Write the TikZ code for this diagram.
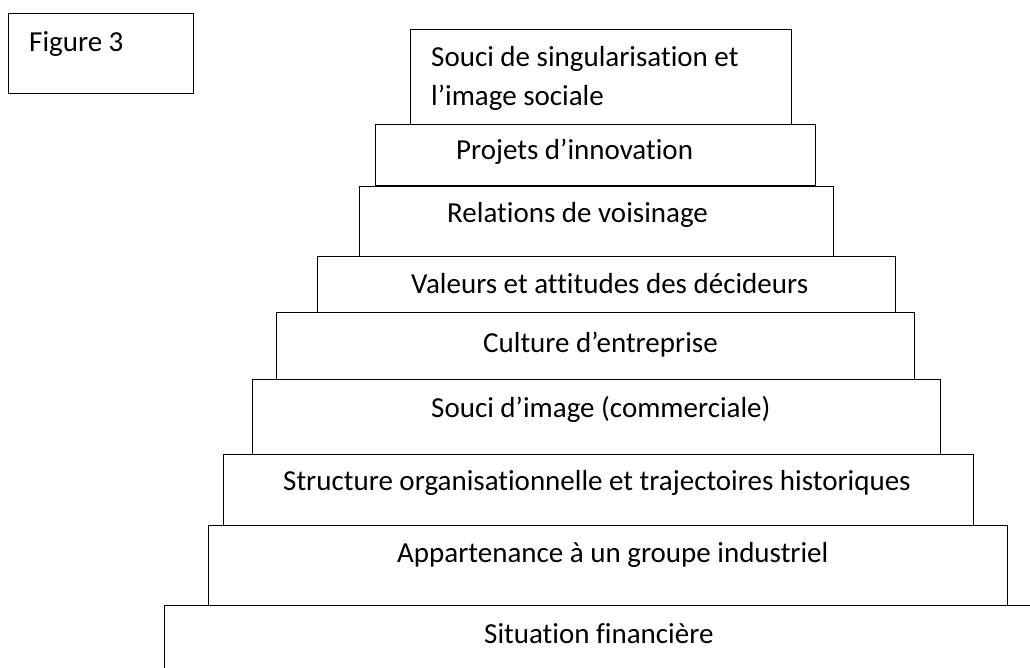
\documentclass[tikz,border=0pt]{standalone}
\usepackage{fontspec}
\setmainfont{Carlito}[Ligatures={NoCommon,NoContextual}]
\begin{document}
\begin{tikzpicture}[x=1pt,y=-1pt,
  tier/.style={draw=black, line width=1.4pt, fill=white, inner sep=0pt, anchor=north west},
  lbl/.style={inner sep=0pt, anchor=base west, font=\fontsize{29}{39}\selectfont}]
\useasboundingbox (0,0) rectangle (1030,668);
\clip (0,0) rectangle (1030,668);

% caption box
\node[tier, minimum width=185pt, minimum height=80pt] (fig) at (8,13) {};
\node[lbl] (figtxt) at (29,52) {Figure 3};

% stacked tiers, from the top down
\node[tier, minimum width=381pt, minimum height=95pt]  (t1) at (410,29)  {};
\node[tier, minimum width=440pt, minimum height=61pt]  (t2) at (375,124) {};
\node[tier, minimum width=474pt, minimum height=70pt]  (t3) at (359,186) {};
\node[tier, minimum width=578pt, minimum height=56pt]  (t4) at (317,256) {};
\node[tier, minimum width=638pt, minimum height=67pt]  (t5) at (276,312) {};
\node[tier, minimum width=688pt, minimum height=75pt]  (t6) at (252,379) {};
\node[tier, minimum width=750pt, minimum height=71pt]  (t7) at (223,454) {};
\node[tier, minimum width=799pt, minimum height=80pt]  (t8) at (208,525) {};
\node[tier, minimum width=900pt, minimum height=100pt] (t9) at (164,605) {};

% tier labels
\node[lbl] (l1a) at (431,67)  {Souci de singularisation et};
\node[lbl] (l1b) at (431,106) {l’image sociale};
\node[lbl] (l2)  at (456,160) {Projets d’innovation};
\node[lbl] (l3)  at (447,223) {Relations de voisinage};
\node[lbl] (l4)  at (411,294) {Valeurs et attitudes des décideurs};
\node[lbl] (l5)  at (483,352) {Culture d’entreprise};
\node[lbl] (l6)  at (431,417) {Souci d’image (commerciale)};
\node[lbl] (l7)  at (283,490) {Structure organisationnelle et trajectoires historiques};
\node[lbl] (l8)  at (397,562) {Appartenance à un groupe industriel};
\node[lbl] (l9)  at (484,643) {Situation financière};
\end{tikzpicture}
\end{document}
